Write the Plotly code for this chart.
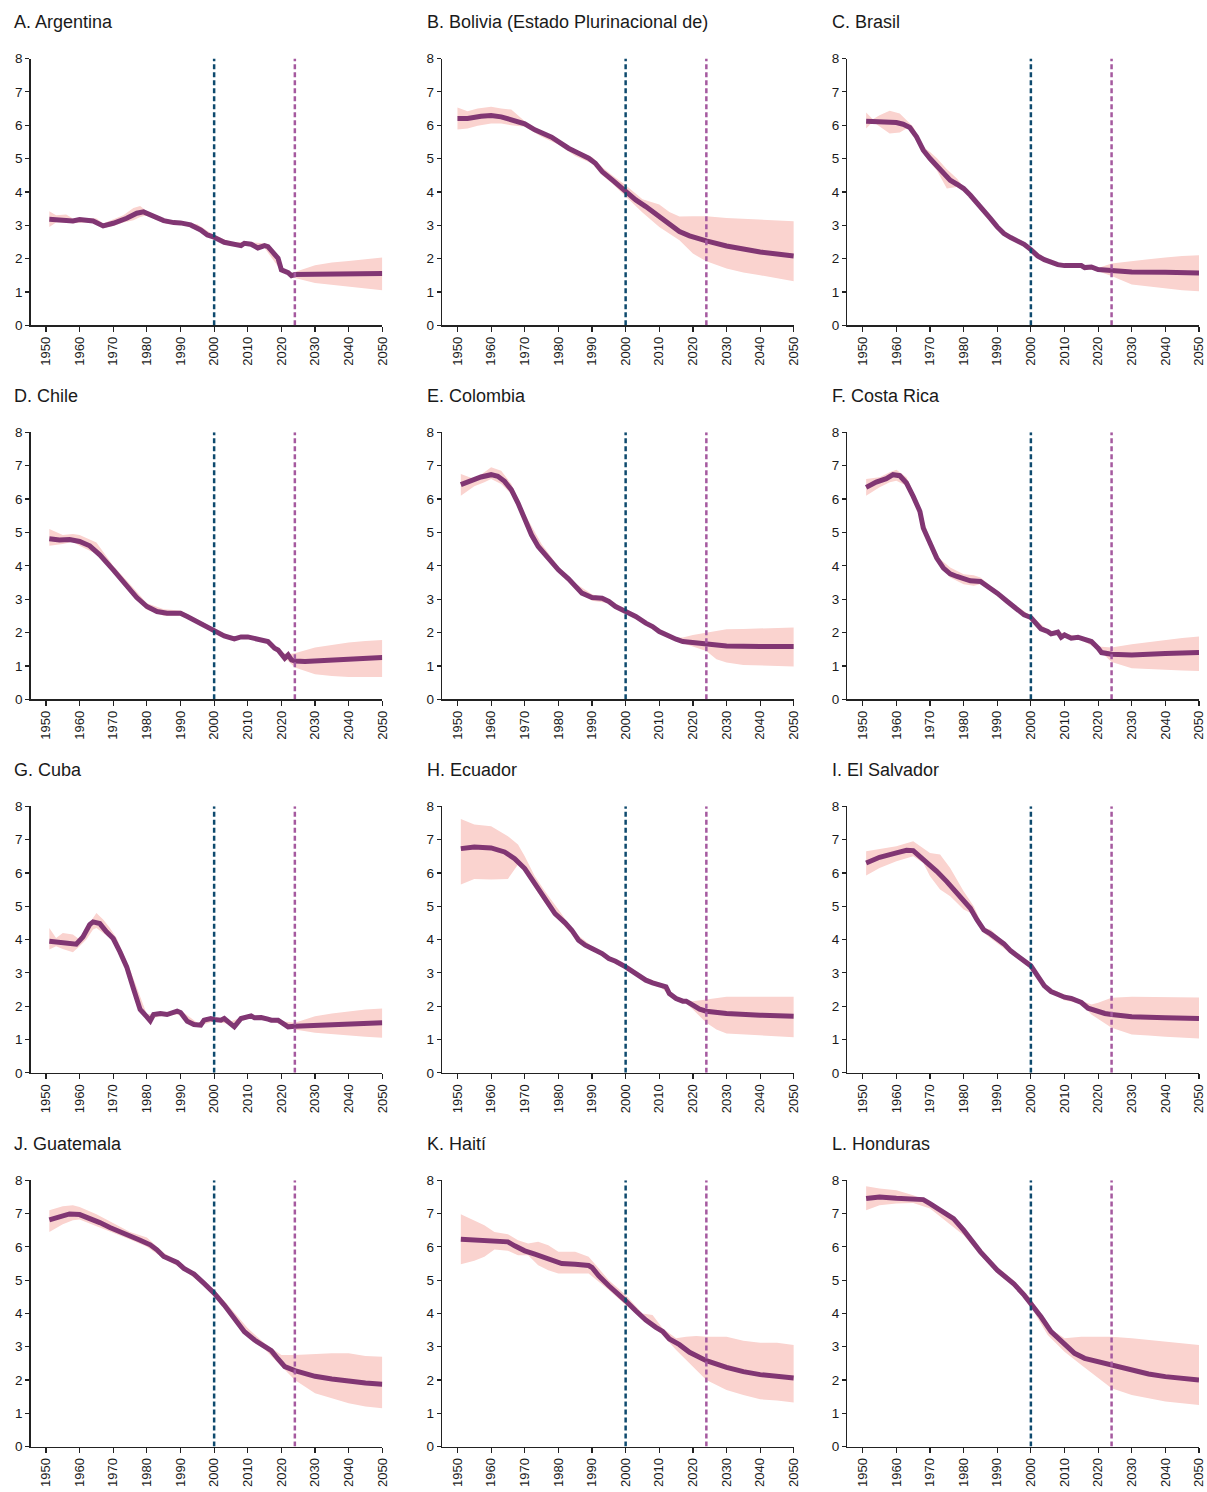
import plotly.graph_objects as go

W, H = 1207, 1492

titles = ["A. Argentina", "B. Bolivia (Estado Plurinacional de)", "C. Brasil",
          "D. Chile", "E. Colombia", "F. Costa Rica",
          "G. Cuba", "H. Ecuador", "I. El Salvador",
          "J. Guatemala", "K. Haití", "L. Honduras"]

x_ticks = [1950, 1960, 1970, 1980, 1990, 2000, 2010, 2020, 2030, 2040, 2050]
y_ticks = [0, 1, 2, 3, 4, 5, 6, 7, 8]
ref_year_1 = 2000
ref_year_2 = 2024

# ---------- A. Argentina ----------
arg_years = [1951, 1955, 1958, 1960, 1962, 1964, 1967, 1970, 1974, 1977, 1979, 1982, 1985, 1988, 1990, 1993, 1996, 1998,
             2000, 2003, 2006, 2008, 2009, 2011, 2013, 2015, 2016, 2018, 2019, 2020, 2022, 2023, 2024, 2030, 2040, 2050]
arg_tfr = [3.18, 3.16, 3.13, 3.17, 3.15, 3.13, 2.98, 3.06, 3.21, 3.36, 3.40, 3.28, 3.14, 3.08, 3.07, 3.01, 2.86, 2.71,
           2.64, 2.49, 2.43, 2.39, 2.46, 2.43, 2.32, 2.39, 2.36, 2.16, 2.01, 1.66, 1.58, 1.49, 1.52, 1.53, 1.54, 1.55]
arg_band_years = [1951, 1953, 1956, 1958, 1962, 1965, 1967, 1970, 1973, 1976, 1978, 1980, 1983, 1986, 1990, 1995, 2000,
                  2005, 2010, 2015, 2020, 2023, 2024, 2030, 2035, 2040, 2045, 2050]
arg_lo = [2.95, 3.08, 3.08, 3.06, 3.08, 3.07, 2.92, 2.98, 3.08, 3.15, 3.25, 3.30, 3.15, 3.04, 3.02, 2.90, 2.60,
          2.42, 2.40, 2.32, 1.62, 1.47, 1.42, 1.27, 1.20, 1.15, 1.10, 1.05]
arg_hi = [3.42, 3.30, 3.32, 3.20, 3.22, 3.20, 3.05, 3.18, 3.30, 3.52, 3.58, 3.42, 3.22, 3.12, 3.10, 3.03, 2.70,
          2.50, 2.50, 2.45, 1.72, 1.53, 1.60, 1.80, 1.88, 1.93, 1.98, 2.03]

# ---------- B. Bolivia ----------
bol_years = [1950, 1953, 1957, 1960, 1963, 1967, 1970, 1973, 1976, 1978, 1980, 1983, 1986, 1989, 1991, 1993, 1996, 1998,
             2000, 2003, 2006, 2008, 2010, 2013, 2016, 2019, 2022, 2024, 2030, 2035, 2040, 2045, 2050]
bol_tfr = [6.20, 6.20, 6.27, 6.29, 6.25, 6.14, 6.04, 5.86, 5.74, 5.64, 5.51, 5.31, 5.16, 5.01, 4.86, 4.61, 4.36, 4.18,
           4.01, 3.76, 3.56, 3.41, 3.24, 3.01, 2.81, 2.68, 2.58, 2.53, 2.38, 2.28, 2.20, 2.14, 2.08]
bol_band_years = [1950, 1953, 1956, 1960, 1963, 1966, 1970, 1975, 1980, 1985, 1990, 1993, 1996, 2000, 2005, 2010,
                  2013, 2016, 2020, 2024, 2030, 2035, 2040, 2045, 2050]
bol_lo = [5.87, 5.90, 5.98, 6.05, 6.05, 6.00, 5.95, 5.65, 5.42, 5.08, 4.85, 4.50, 4.25, 3.88, 3.38, 2.95,
          2.75, 2.55, 2.15, 1.92, 1.70, 1.58, 1.50, 1.42, 1.32]
bol_hi = [6.53, 6.42, 6.50, 6.55, 6.50, 6.47, 6.12, 5.82, 5.58, 5.25, 5.05, 4.75, 4.50, 4.20, 3.78, 3.62,
          3.40, 3.26, 3.27, 3.27, 3.22, 3.20, 3.18, 3.15, 3.12]

# ---------- C. Brasil ----------
bra_years = [1951, 1955, 1960, 1962, 1964, 1966, 1968, 1970, 1972, 1974, 1976, 1978, 1980, 1982, 1984, 1986, 1988, 1990,
             1992, 1994, 1996, 1998, 2000, 2002, 2004, 2006, 2008, 2010, 2013, 2015, 2016, 2018, 2020, 2022, 2024,
             2030, 2040, 2050]
bra_tfr = [6.12, 6.10, 6.08, 6.03, 5.93, 5.65, 5.25, 5.00, 4.80, 4.55, 4.35, 4.23, 4.10, 3.90, 3.68, 3.43, 3.20, 2.95,
           2.75, 2.63, 2.55, 2.43, 2.27, 2.08, 1.97, 1.88, 1.82, 1.79, 1.77, 1.79, 1.73, 1.75, 1.67, 1.65, 1.63,
           1.60, 1.59, 1.57]
bra_band_years = [1951, 1953, 1955, 1958, 1961, 1963, 1965, 1968, 1970, 1972, 1975, 1978, 1980, 1985, 1990, 1995,
                  2000, 2005, 2010, 2015, 2020, 2024, 2030, 2035, 2040, 2045, 2050]
bra_lo = [5.90, 6.10, 5.95, 5.75, 5.78, 5.90, 5.82, 5.15, 4.88, 4.65, 4.10, 4.15, 4.05, 3.55, 2.90, 2.52,
          2.22, 1.88, 1.76, 1.74, 1.62, 1.48, 1.22, 1.15, 1.10, 1.05, 1.02]
bra_hi = [6.38, 6.18, 6.30, 6.43, 6.35, 6.15, 5.95, 5.35, 5.20, 5.02, 4.68, 4.40, 4.15, 3.62, 3.00, 2.60,
          2.32, 1.96, 1.83, 1.83, 1.72, 1.85, 1.93, 1.98, 2.03, 2.08, 2.10]

# ---------- D. Chile ----------
chl_years = [1951, 1954, 1957, 1960, 1963, 1966, 1970, 1974, 1977, 1980, 1983, 1986, 1990, 1992, 1995, 1998, 2000,
             2003, 2006, 2008, 2010, 2013, 2016, 2018, 2019, 2021, 2022, 2023, 2024, 2027, 2030, 2035, 2040, 2045, 2050]
chl_tfr = [4.81, 4.77, 4.79, 4.73, 4.60, 4.33, 3.88, 3.38, 3.05, 2.78, 2.63, 2.58, 2.58, 2.48, 2.33, 2.16, 2.06,
           1.90, 1.81, 1.87, 1.87, 1.80, 1.73, 1.53, 1.48, 1.23, 1.33, 1.18, 1.15, 1.13, 1.15, 1.18, 1.21, 1.23, 1.25]
chl_band_years = [1951, 1955, 1958, 1960, 1965, 1970, 1975, 1980, 1985, 1990, 1995, 2000, 2005, 2010, 2015, 2020,
                  2022, 2024, 2030, 2035, 2040, 2045, 2050]
chl_lo = [4.60, 4.65, 4.72, 4.60, 4.35, 3.80, 3.22, 2.68, 2.50, 2.50, 2.28, 2.02, 1.80, 1.83, 1.72, 1.30,
          1.15, 0.95, 0.75, 0.70, 0.67, 0.67, 0.67]
chl_hi = [5.10, 4.92, 4.95, 4.92, 4.70, 4.00, 3.45, 2.88, 2.70, 2.66, 2.40, 2.12, 1.87, 1.90, 1.80, 1.40,
          1.35, 1.38, 1.55, 1.63, 1.70, 1.75, 1.78]

# ---------- E. Colombia ----------
col_years = [1951, 1954, 1957, 1960, 1962, 1964, 1966, 1968, 1970, 1972, 1974, 1976, 1978, 1980, 1983, 1985, 1987, 1990,
             1993, 1995, 1997, 2000, 2003, 2006, 2008, 2010, 2012, 2015, 2017, 2020, 2024, 2027, 2030, 2040, 2050]
col_tfr = [6.43, 6.55, 6.66, 6.73, 6.68, 6.53, 6.28, 5.88, 5.38, 4.93, 4.58, 4.35, 4.10, 3.88, 3.61, 3.38, 3.18, 3.05,
           3.03, 2.93, 2.78, 2.63, 2.48, 2.28, 2.18, 2.03, 1.93, 1.80, 1.73, 1.70, 1.65, 1.61, 1.60, 1.58, 1.58]
col_band_years = [1951, 1955, 1958, 1960, 1963, 1966, 1970, 1975, 1980, 1985, 1990, 1995, 2000, 2005, 2010, 2015,
                  2017, 2020, 2024, 2027, 2030, 2035, 2040, 2045, 2050]
col_lo = [6.10, 6.38, 6.50, 6.60, 6.45, 6.15, 5.30, 4.40, 3.82, 3.32, 2.95, 2.88, 2.58, 2.28, 1.98, 1.75,
          1.70, 1.58, 1.45, 1.20, 1.10, 1.03, 1.00, 0.99, 0.98]
col_hi = [6.75, 6.60, 6.80, 6.95, 6.85, 6.45, 5.55, 4.65, 3.98, 3.48, 3.15, 3.00, 2.68, 2.38, 2.08, 1.85,
          1.85, 1.93, 2.00, 2.07, 2.10, 2.11, 2.12, 2.13, 2.15]

# ---------- F. Costa Rica ----------
cri_years = [1951, 1954, 1957, 1959, 1961, 1963, 1965, 1967, 1968, 1970, 1972, 1974, 1976, 1978, 1980, 1982, 1985, 1987,
             1990, 1993, 1996, 1998, 2000, 2001, 2003, 2005, 2006, 2008, 2009, 2010, 2012, 2014, 2016, 2018, 2020,
             2021, 2024, 2030, 2040, 2050]
cri_tfr = [6.35, 6.51, 6.61, 6.73, 6.70, 6.48, 6.08, 5.63, 5.13, 4.68, 4.23, 3.93, 3.76, 3.68, 3.60, 3.55, 3.53, 3.40,
           3.18, 2.93, 2.68, 2.53, 2.45, 2.33, 2.11, 2.03, 1.96, 2.01, 1.86, 1.93, 1.83, 1.86, 1.78, 1.73, 1.53,
           1.40, 1.35, 1.33, 1.37, 1.40]
cri_band_years = [1951, 1955, 1958, 1960, 1963, 1966, 1970, 1973, 1976, 1980, 1983, 1985, 1990, 1995, 2000, 2005,
                  2010, 2015, 2020, 2024, 2030, 2035, 2040, 2045, 2050]
cri_lo = [6.10, 6.35, 6.50, 6.55, 6.40, 5.80, 4.60, 4.00, 3.65, 3.45, 3.40, 3.45, 3.12, 2.75, 2.40, 1.98,
          1.88, 1.78, 1.50, 1.12, 0.93, 0.90, 0.88, 0.86, 0.85]
cri_hi = [6.60, 6.65, 6.80, 6.88, 6.65, 6.00, 4.78, 4.20, 3.95, 3.75, 3.72, 3.65, 3.24, 2.85, 2.50, 2.08,
          1.98, 1.86, 1.58, 1.55, 1.65, 1.72, 1.78, 1.84, 1.88]

# ---------- G. Cuba ----------
cub_years = [1951, 1954, 1957, 1959, 1961, 1963, 1964, 1966, 1968, 1970, 1972, 1974, 1976, 1978, 1980, 1981, 1982, 1984,
             1986, 1988, 1989, 1990, 1992, 1994, 1996, 1997, 1999, 2000, 2002, 2003, 2005, 2006, 2008, 2010, 2011,
             2012, 2014, 2016, 2017, 2019, 2021, 2022, 2024, 2030, 2040, 2050]
cub_tfr = [3.95, 3.91, 3.88, 3.86, 4.08, 4.45, 4.53, 4.48, 4.23, 4.03, 3.63, 3.18, 2.53, 1.90, 1.68, 1.56, 1.75, 1.78,
           1.75, 1.80, 1.85, 1.81, 1.55, 1.45, 1.43, 1.58, 1.63, 1.60, 1.58, 1.63, 1.48, 1.38, 1.63, 1.68, 1.71,
           1.65, 1.66, 1.61, 1.58, 1.58, 1.45, 1.38, 1.40, 1.43, 1.46, 1.50]
cub_band_years = [1951, 1953, 1955, 1958, 1960, 1962, 1964, 1965, 1967, 1969, 1971, 1975, 1980, 1985, 1990, 1995,
                  2000, 2005, 2010, 2015, 2020, 2024, 2030, 2035, 2040, 2045, 2050]
cub_lo = [3.70, 3.80, 3.72, 3.62, 3.80, 4.00, 4.30, 4.35, 4.20, 4.05, 3.80, 2.90, 1.60, 1.72, 1.75, 1.40,
          1.55, 1.45, 1.62, 1.60, 1.45, 1.30, 1.20, 1.15, 1.12, 1.08, 1.05]
cub_hi = [4.35, 4.05, 4.20, 4.15, 4.00, 4.30, 4.65, 4.80, 4.60, 4.35, 4.05, 3.10, 1.75, 1.82, 1.88, 1.50,
          1.65, 1.55, 1.72, 1.70, 1.55, 1.50, 1.70, 1.78, 1.85, 1.90, 1.93]

# ---------- H. Ecuador ----------
ecu_years = [1951, 1955, 1960, 1964, 1967, 1970, 1973, 1976, 1979, 1982, 1984, 1986, 1988, 1990, 1993, 1995, 1997,
             2000, 2003, 2006, 2008, 2010, 2012, 2013, 2015, 2017, 2018, 2020, 2022, 2024, 2030, 2040, 2050]
ecu_tfr = [6.73, 6.78, 6.75, 6.63, 6.43, 6.13, 5.68, 5.20, 4.78, 4.50, 4.28, 3.98, 3.83, 3.73, 3.58, 3.43, 3.35,
           3.18, 2.98, 2.78, 2.70, 2.65, 2.58, 2.38, 2.23, 2.15, 2.15, 2.03, 1.91, 1.85, 1.78, 1.73, 1.70]
ecu_band_years = [1951, 1955, 1960, 1965, 1968, 1970, 1973, 1976, 1980, 1985, 1990, 1995, 2000, 2005, 2010, 2015,
                  2018, 2020, 2024, 2027, 2030, 2035, 2040, 2045, 2050]
ecu_lo = [5.65, 5.82, 5.80, 5.82, 6.25, 6.05, 5.55, 5.10, 4.60, 4.05, 3.68, 3.38, 3.12, 2.80, 2.60, 2.18,
          2.08, 1.90, 1.50, 1.30, 1.18, 1.14, 1.12, 1.10, 1.07]
ecu_hi = [7.62, 7.45, 7.40, 7.10, 6.85, 6.50, 5.90, 5.45, 4.90, 4.20, 3.80, 3.50, 3.22, 2.90, 2.70, 2.30,
          2.18, 2.15, 2.20, 2.25, 2.28, 2.28, 2.28, 2.28, 2.28]

# ---------- I. El Salvador ----------
slv_years = [1951, 1955, 1960, 1963, 1965, 1967, 1970, 1972, 1975, 1978, 1980, 1982, 1984, 1986, 1988, 1990, 1992,
             1994, 1996, 1998, 2000, 2002, 2004, 2006, 2008, 2010, 2012, 2015, 2017, 2019, 2022, 2024, 2030, 2040, 2050]
slv_tfr = [6.30, 6.47, 6.60, 6.68, 6.67, 6.50, 6.20, 6.05, 5.74, 5.41, 5.19, 4.94, 4.59, 4.29, 4.17, 4.04, 3.87,
           3.66, 3.51, 3.36, 3.21, 2.91, 2.61, 2.44, 2.34, 2.27, 2.23, 2.11, 1.94, 1.86, 1.78, 1.75, 1.68, 1.65, 1.63]
slv_band_years = [1951, 1955, 1960, 1965, 1968, 1970, 1973, 1976, 1980, 1983, 1986, 1988, 1990, 1995, 2000, 2005,
                  2010, 2015, 2018, 2020, 2024, 2030, 2035, 2040, 2045, 2050]
slv_lo = [5.92, 6.15, 6.35, 6.50, 6.30, 5.90, 5.50, 5.30, 4.90, 4.75, 4.20, 4.05, 3.90, 3.50, 3.15, 2.45,
          2.18, 2.07, 1.75, 1.60, 1.35, 1.15, 1.12, 1.08, 1.05, 1.03]
slv_hi = [6.65, 6.72, 6.80, 6.95, 6.75, 6.60, 6.55, 6.15, 5.45, 5.00, 4.35, 4.30, 4.12, 3.60, 3.28, 2.55,
          2.35, 2.15, 2.05, 2.10, 2.25, 2.28, 2.27, 2.26, 2.26, 2.26]

# ---------- J. Guatemala ----------
gtm_years = [1951, 1954, 1957, 1960, 1963, 1966, 1969, 1972, 1975, 1978, 1981, 1983, 1985, 1987, 1989, 1991, 1994,
             1997, 2000, 2003, 2006, 2009, 2012, 2015, 2017, 2019, 2021, 2024, 2027, 2030, 2035, 2040, 2045, 2050]
gtm_tfr = [6.81, 6.91, 6.99, 6.97, 6.86, 6.73, 6.58, 6.46, 6.35, 6.20, 6.06, 5.91, 5.71, 5.61, 5.53, 5.35, 5.18,
           4.90, 4.61, 4.25, 3.83, 3.45, 3.20, 3.01, 2.88, 2.63, 2.40, 2.28, 2.18, 2.11, 2.03, 1.96, 1.91, 1.87]
gtm_band_years = [1951, 1955, 1958, 1960, 1965, 1970, 1975, 1980, 1985, 1990, 1995, 2000, 2005, 2010, 2015, 2020,
                  2024, 2030, 2035, 2040, 2045, 2050]
gtm_lo = [6.45, 6.68, 6.80, 6.82, 6.62, 6.42, 6.22, 6.00, 5.65, 5.38, 5.00, 4.55, 3.92, 3.30, 2.92, 2.40,
          2.00, 1.60, 1.45, 1.30, 1.20, 1.15]
gtm_hi = [7.10, 7.22, 7.25, 7.20, 6.98, 6.72, 6.45, 6.28, 5.82, 5.52, 5.12, 4.72, 4.15, 3.55, 3.10, 2.75,
          2.75, 2.78, 2.80, 2.80, 2.72, 2.70]

# ---------- K. Haití ----------
hti_years = [1951, 1955, 1960, 1965, 1967, 1970, 1973, 1976, 1979, 1981, 1985, 1989, 1990, 1992, 1995, 1998, 2000,
             2003, 2006, 2009, 2011, 2013, 2016, 2019, 2022, 2024, 2030, 2035, 2040, 2045, 2050]
hti_tfr = [6.23, 6.21, 6.18, 6.15, 6.03, 5.88, 5.78, 5.66, 5.55, 5.50, 5.48, 5.44, 5.38, 5.13, 4.83, 4.58, 4.38,
           4.08, 3.80, 3.58, 3.46, 3.23, 3.06, 2.83, 2.66, 2.58, 2.38, 2.25, 2.16, 2.10, 2.06]
hti_band_years = [1951, 1955, 1958, 1961, 1965, 1968, 1971, 1974, 1977, 1980, 1985, 1989, 1992, 1995, 2000, 2005,
                  2008, 2011, 2015, 2018, 2021, 2024, 2030, 2035, 2040, 2045, 2050]
hti_lo = [5.48, 5.58, 5.70, 5.92, 5.88, 5.75, 5.75, 5.45, 5.30, 5.20, 5.20, 5.20, 4.95, 4.70, 4.25, 3.85,
          3.60, 3.35, 2.90, 2.60, 2.30, 2.00, 1.70, 1.55, 1.42, 1.38, 1.32]
hti_hi = [6.98, 6.80, 6.65, 6.45, 6.38, 6.20, 6.10, 6.15, 6.05, 5.85, 5.85, 5.70, 5.35, 5.00, 4.55, 4.00,
          3.95, 3.55, 3.25, 3.30, 3.32, 3.30, 3.30, 3.18, 3.12, 3.12, 3.05]

# ---------- L. Honduras ----------
hnd_years = [1951, 1955, 1960, 1965, 1968, 1970, 1973, 1977, 1980, 1985, 1990, 1995, 1998, 2000, 2003, 2006, 2010,
             2013, 2016, 2020, 2024, 2030, 2035, 2040, 2045, 2050]
hnd_tfr = [7.45, 7.50, 7.46, 7.42, 7.42, 7.30, 7.10, 6.85, 6.50, 5.85, 5.30, 4.88, 4.55, 4.30, 3.90, 3.45, 3.05,
           2.80, 2.65, 2.55, 2.45, 2.28, 2.18, 2.10, 2.04, 2.00]
hnd_band_years = [1951, 1955, 1960, 1965, 1970, 1975, 1980, 1985, 1990, 1995, 2000, 2005, 2010, 2015, 2020, 2024,
                  2030, 2035, 2040, 2045, 2050]
hnd_lo = [7.10, 7.25, 7.30, 7.32, 7.15, 6.75, 6.35, 5.75, 5.20, 4.80, 4.20, 3.35, 2.85, 2.45, 2.05, 1.75,
          1.55, 1.45, 1.35, 1.30, 1.25]
hnd_hi = [7.82, 7.75, 7.70, 7.55, 7.35, 6.95, 6.60, 5.95, 5.40, 4.98, 4.45, 3.60, 3.25, 3.30, 3.30, 3.30,
          3.25, 3.20, 3.15, 3.10, 3.05]

panels = [
    (arg_years, arg_tfr, arg_band_years, arg_lo, arg_hi),
    (bol_years, bol_tfr, bol_band_years, bol_lo, bol_hi),
    (bra_years, bra_tfr, bra_band_years, bra_lo, bra_hi),
    (chl_years, chl_tfr, chl_band_years, chl_lo, chl_hi),
    (col_years, col_tfr, col_band_years, col_lo, col_hi),
    (cri_years, cri_tfr, cri_band_years, cri_lo, cri_hi),
    (cub_years, cub_tfr, cub_band_years, cub_lo, cub_hi),
    (ecu_years, ecu_tfr, ecu_band_years, ecu_lo, ecu_hi),
    (slv_years, slv_tfr, slv_band_years, slv_lo, slv_hi),
    (gtm_years, gtm_tfr, gtm_band_years, gtm_lo, gtm_hi),
    (hti_years, hti_tfr, hti_band_years, hti_lo, hti_hi),
    (hnd_years, hnd_tfr, hnd_band_years, hnd_lo, hnd_hi),
]

# ---------- styling / layout ----------
LINE_COLOR = "#813673"
BAND_COLOR = "#FAD3CF"
BLUE_DASH = "#0E4A6E"
PURPLE_DASH = "#A5599F"
FONT = "Liberation Sans, Arial, sans-serif"
TXT = "#1a1a1a"

col_px = [(30.5, 382.3), (442.0, 793.8), (847.3, 1199.0)]
row_px = [(58.5, 325.3), (432.3, 699.3), (806.3, 1072.8), (1180.3, 1446.5)]
title_x_px = [12, 425, 830]
title_y_px = [22, 396, 770, 1144]


def fx(px):
    return px / W


def fy(py):
    return 1 - py / H


fig = go.Figure()
layout = dict(
    width=W, height=H,
    margin=dict(l=0, r=0, t=0, b=0),
    paper_bgcolor="white", plot_bgcolor="white",
    showlegend=False,
    font=dict(family=FONT, color=TXT, size=13),
    shapes=[], annotations=[],
)

for i, (yrs, tfr, byrs, lo, hi) in enumerate(panels):
    r, c = divmod(i, 3)
    n = i + 1
    xa = "x" if n == 1 else f"x{n}"
    ya = "y" if n == 1 else f"y{n}"
    xkey = "xaxis" if n == 1 else f"xaxis{n}"
    ykey = "yaxis" if n == 1 else f"yaxis{n}"

    # uncertainty band
    fig.add_trace(go.Scatter(
        x=list(byrs) + list(byrs)[::-1], y=list(hi) + list(lo)[::-1],
        fill="toself", fillcolor=BAND_COLOR, line=dict(width=0, color=BAND_COLOR),
        mode="lines", hoverinfo="skip", xaxis=xa, yaxis=ya))
    # main line
    fig.add_trace(go.Scatter(
        x=yrs, y=tfr, mode="lines", line=dict(color=LINE_COLOR, width=5),
        xaxis=xa, yaxis=ya))

    x0, x1 = col_px[c]
    yt, yb = row_px[r]
    layout[xkey] = dict(
        domain=[fx(x0), fx(x1)], anchor=ya, range=[1945.4, 2050],
        tickvals=x_ticks, ticktext=[str(t) for t in x_ticks], tickangle=-90,
        showline=True, linecolor="#222", linewidth=1.3, ticks="outside", ticklen=5,
        tickcolor="#222", tickwidth=1.2, showgrid=False, zeroline=False,
        ticklabeloverflow="allow",
        tickfont=dict(size=13, family=FONT, color=TXT), automargin=False, fixedrange=True)
    layout[ykey] = dict(
        domain=[fy(yb), fy(yt)], anchor=xa, range=[0, 8],
        tickvals=y_ticks, ticktext=[str(t) for t in y_ticks],
        showline=True, linecolor="#222", linewidth=1.3, ticks="outside", ticklen=4,
        tickcolor="#222", tickwidth=1.2, showgrid=False, zeroline=False,
        ticklabeloverflow="allow",
        tickfont=dict(size=13.5, family=FONT, color=TXT), automargin=False, fixedrange=True)

    for xv, colr in ((ref_year_1, BLUE_DASH), (ref_year_2, PURPLE_DASH)):
        layout["shapes"].append(dict(
            type="line", xref=xa, yref=ya, x0=xv, x1=xv, y0=0, y1=8,
            line=dict(color=colr, width=2.5, dash="5px,3px"), layer="above"))

    layout["annotations"].append(dict(
        text=titles[i], x=fx(title_x_px[c]), y=fy(title_y_px[r]),
        xref="paper", yref="paper", xanchor="left", yanchor="middle",
        showarrow=False, font=dict(size=18, family=FONT, color=TXT)))

fig.update_layout(**layout)
fig.write_html(
    "out.html",
    config={"displayModeBar": False, "staticPlot": True},
    post_script="document.body.style.margin='0';document.body.style.overflow='hidden';",
)
